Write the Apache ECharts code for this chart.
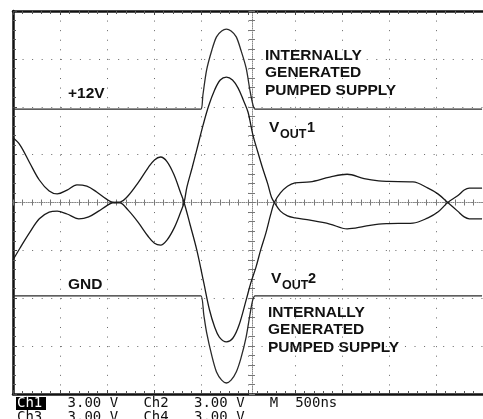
<!DOCTYPE html>
<html>
<head>
    <meta charset="utf-8">
    <script src="https://cdn.jsdelivr.net/npm/echarts@6/dist/echarts.min.js"></script>
    <title></title>
    <style>
        html, body { margin: 0; padding: 0; background: #fff; }
        #scope { width: 483px; height: 419px; }
    </style>
</head>
<body>
<div id="scope"></div>

<script>
    // x: time in divisions (500 ns/div), y: divisions (3.00 V/div, channels offset)
    var pumpedHigh = [[0,1.95],[3.9,1.95],[4.0,1.95],[4.04,2.24],[4.12,2.77],[4.23,3.18],[4.33,3.46],[4.44,3.58],[4.54,3.62],
        [4.64,3.58],[4.75,3.46],[4.85,3.18],[4.96,2.81],[5.04,2.35],[5.1,2.06],[5.15,1.95],[5.25,1.95],[9.98,1.95]];
    var pumpedLow = [[0,-1.95],[3.9,-1.95],[4.0,-1.95],[4.06,-2.35],[4.12,-2.72],[4.23,-3.2],[4.33,-3.54],[4.44,-3.71],[4.54,-3.77],
        [4.64,-3.71],[4.75,-3.54],[4.85,-3.25],[4.96,-2.81],[5.04,-2.35],[5.1,-2.04],[5.15,-1.95],[5.25,-1.95],[9.98,-1.95]];
    var vout1 = [[0,1.35],[0.15,1.2],[0.36,0.82],[0.56,0.47],[0.77,0.24],[0.94,0.18],[1.15,0.26],[1.36,0.37],[1.57,0.34],
        [1.78,0.22],[1.99,0.07],[2.13,0],[2.28,-0.01],[2.45,-0.16],[2.66,-0.41],[2.87,-0.7],[3.01,-0.85],[3.14,-0.89],
        [3.28,-0.78],[3.43,-0.53],[3.56,-0.22],[3.64,0],[3.7,0.32],[3.81,0.72],[3.91,1.1],[4.04,1.6],[4.16,2.01],
        [4.29,2.35],[4.41,2.56],[4.54,2.62],[4.67,2.56],[4.79,2.39],[4.9,2.14],[5.0,1.89],[5.1,1.43],[5.21,1.05],
        [5.31,0.72],[5.42,0.39],[5.5,0.11],[5.56,0],[5.69,-0.18],[5.84,-0.28],[6.0,-0.32],[6.32,-0.37],[6.74,-0.45],
        [7.11,-0.55],[7.47,-0.5],[7.78,-0.45],[7.99,-0.44],[8.51,-0.43],[8.83,-0.32],[9.04,-0.2],[9.25,0],[9.46,0.14],
        [9.6,0.26],[9.71,0.3],[9.98,0.3]];
    var vout2 = [[0,-1.2],[0.15,-0.95],[0.36,-0.62],[0.56,-0.34],[0.77,-0.2],[0.94,-0.18],[1.15,-0.24],[1.4,-0.34],[1.61,-0.3],
        [1.82,-0.18],[1.99,-0.07],[2.13,0],[2.28,0.01],[2.45,0.14],[2.66,0.41],[2.87,0.72],[3.01,0.89],[3.14,0.95],
        [3.28,0.85],[3.43,0.57],[3.56,0.22],[3.64,0],[3.77,-0.47],[3.91,-0.99],[4.06,-1.68],[4.18,-2.24],[4.29,-2.6],
        [4.39,-2.81],[4.54,-2.91],[4.68,-2.83],[4.81,-2.56],[4.96,-2.04],[5.06,-1.68],[5.17,-1.35],[5.27,-0.99],
        [5.38,-0.64],[5.48,-0.26],[5.56,0],[5.69,0.2],[5.84,0.34],[6.0,0.41],[6.32,0.43],[6.74,0.53],[7.11,0.59],
        [7.47,0.5],[7.78,0.45],[7.99,0.44],[8.51,0.43],[8.83,0.3],[9.04,0.18],[9.25,0],[9.46,-0.18],[9.6,-0.3],
        [9.71,-0.34],[9.98,-0.34]];

    var channels = ['Ch1', 'Ch2', 'Ch3', 'Ch4'];
    var voltsPerDiv = ['3.00 V', '3.00 V', '3.00 V', '3.00 V'];
    var timebase = '500ns';

    var row1 = channels[0] + '   ' + voltsPerDiv[0] + '   ' + channels[1] + '   ' + voltsPerDiv[1] + '   M  ' + timebase;
    var row2 = channels[2] + '   ' + voltsPerDiv[2] + '   ' + channels[3] + '   ' + voltsPerDiv[3];

    var labelFont = 'bold 15.5px "Liberation Sans", Arial, sans-serif';
    var subFont = 'bold 12.5px "Liberation Sans", Arial, sans-serif';
    var monoFont = '14px "DejaVu Sans Mono", monospace';

    function frameAxis(pos, extra) {
        var a = {
            type: 'value', min: 0, max: 10, interval: 1, position: pos,
            axisLine: { show: true, onZero: false, lineStyle: { color: '#111', width: 2.5 } },
            axisTick: { show: true, inside: true, length: 4, lineStyle: { color: '#444' } },
            minorTick: { show: true, splitNumber: 5, length: 3, lineStyle: { color: '#555' } },
            axisLabel: { show: false },
            splitLine: { show: false }
        };
        return Object.assign(a, extra || {});
    }
    function centerAxis(offset, inside, showLine, yDim) {
        return {
            type: 'value', min: yDim ? -4 : 0, max: yDim ? 4 : 10, interval: 1,
            position: yDim ? 'left' : 'bottom', offset: offset,
            axisLine: { show: showLine, onZero: false, lineStyle: { color: '#888', width: 1, type: [1, 1.2] } },
            axisTick: { show: true, inside: inside, length: 3, lineStyle: { color: '#777' } },
            minorTick: { show: true, splitNumber: 5, length: 3, lineStyle: { color: '#777' } },
            axisLabel: { show: false },
            splitLine: { show: false }
        };
    }

    var chart = echarts.init(document.getElementById('scope'));
    chart.setOption({
        animation: false,
        backgroundColor: '#fff',
        grid: { left: 13, top: 11, width: 478, height: 383 },
        xAxis: [
            frameAxis('bottom', { splitLine: { show: true, lineStyle: { color: '#666', width: 1, type: [1, 8.575] } } }),
            frameAxis('top'),
            centerAxis(-191.5, true, true, false),
            centerAxis(-191.5, false, false, false)
        ],
        yAxis: [
            Object.assign(frameAxis('left', { splitLine: { show: true, lineStyle: { color: '#666', width: 1, type: [1, 8.56] } } }), { min: -4, max: 4 }),
            centerAxis(-239, true, true, true),
            centerAxis(-239, false, false, true)
        ],
        series: [
            { type: 'line', data: pumpedHigh, showSymbol: false, smooth: 0.3, lineStyle: { color: '#2a2a2a', width: 1.3 } },
            { type: 'line', data: pumpedLow, showSymbol: false, smooth: 0.3, lineStyle: { color: '#2a2a2a', width: 1.3 } },
            { type: 'line', data: vout1, showSymbol: false, smooth: 0.35, lineStyle: { color: '#1a1a1a', width: 1.3 } },
            { type: 'line', data: vout2, showSymbol: false, smooth: 0.35, lineStyle: { color: '#1a1a1a', width: 1.3 } }
        ],
        graphic: [
            { type: 'text', left: 68, top: 86, style: { text: '+12V', font: labelFont, fill: '#111' } },
            { type: 'text', left: 68, top: 277, style: { text: 'GND', font: labelFont, fill: '#111' } },
            { type: 'text', left: 265, top: 47, style: { text: 'INTERNALLY\nGENERATED\nPUMPED SUPPLY', font: labelFont, lineHeight: 17.3, fill: '#111' } },
            { type: 'text', left: 268, top: 304, style: { text: 'INTERNALLY\nGENERATED\nPUMPED SUPPLY', font: labelFont, lineHeight: 17.3, fill: '#111' } },
            { type: 'text', left: 269, top: 120, style: { text: 'V', font: labelFont, fill: '#111' } },
            { type: 'text', left: 280, top: 128, style: { text: 'OUT', font: subFont, fill: '#111' } },
            { type: 'text', left: 307, top: 120, style: { text: '1', font: 'bold 14.5px "Liberation Sans", Arial, sans-serif', fill: '#111' } },
            { type: 'text', left: 271, top: 271, style: { text: 'V', font: labelFont, fill: '#111' } },
            { type: 'text', left: 282, top: 279, style: { text: 'OUT', font: subFont, fill: '#111' } },
            { type: 'text', left: 308, top: 271, style: { text: '2', font: 'bold 14.5px "Liberation Sans", Arial, sans-serif', fill: '#111' } },
            { type: 'text', left: 17, top: 396, z: 10, style: { text: row1, font: monoFont, fill: '#111' } },
            { type: 'text', left: 17, top: 410, z: 10, style: { text: row2, font: monoFont, fill: '#111' } },
            { type: 'rect', left: 16, top: 397, z: 11, shape: { width: 30, height: 13 }, style: { fill: '#000' } },
            { type: 'text', left: 17, top: 396, z: 12, style: { text: channels[0], font: monoFont, fill: '#fff' } }
        ]
    });
</script>
</body>
</html>
